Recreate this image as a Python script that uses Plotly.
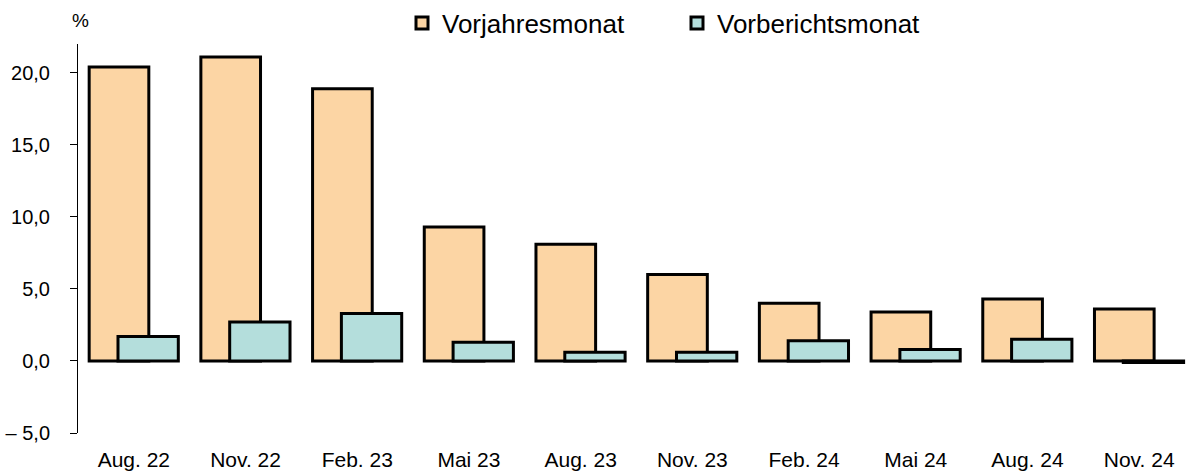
import plotly.graph_objects as go

categories = ["Aug. 22", "Nov. 22", "Feb. 23", "Mai 23", "Aug. 23",
              "Nov. 23", "Feb. 24", "Mai 24", "Aug. 24", "Nov. 24"]
vorjahresmonat = [20.4, 21.1, 18.9, 9.3, 8.1, 6.0, 4.0, 3.4, 4.3, 3.6]
vorberichtsmonat = [1.7, 2.7, 3.3, 1.3, 0.6, 0.6, 1.4, 0.8, 1.5, -0.1]
y_tickvals = [-5, 0, 5, 10, 15, 20]
y_ticktext = ["\u2013 5,0", "0,0", "5,0", "10,0", "15,0", "20,0"]
y_range = [-5, 22]

FONT = "Liberation Sans, Arial, sans-serif"
ORANGE = "#FCD5A4"
BLUE = "#B4DEDC"

fig = go.Figure()
fig.add_trace(go.Bar(
    x=categories, y=vorjahresmonat, name="Vorjahresmonat",
    width=0.534, offset=-0.40,
    marker=dict(color=ORANGE, line=dict(color="black", width=3)),
))
fig.add_trace(go.Bar(
    x=categories, y=vorberichtsmonat, name="Vorberichtsmonat",
    width=0.54, offset=-0.142,
    marker=dict(color=BLUE, line=dict(color="black", width=3)),
))

n = len(categories)
zero_pos = (0 - y_range[0]) / (y_range[1] - y_range[0])

fig.update_layout(
    width=1198, height=471,
    margin=dict(l=78, r=3, t=44, b=38, autoexpand=False),
    paper_bgcolor="white", plot_bgcolor="white",
    barmode="overlay",
    font=dict(family=FONT, size=20, color="black"),
    showlegend=True,
    legend=dict(
        orientation="h", xref="container", yref="container",
        x=402 / 1198, y=1 - 23 / 471, xanchor="left", yanchor="middle",
        font=dict(size=26, family=FONT), itemwidth=30, entrywidth=230,
        bgcolor="rgba(0,0,0,0)", traceorder="normal",
    ),
    xaxis=dict(
        type="category", range=[-0.5, n - 0.5], automargin=False,
        showline=False, showgrid=False, zeroline=False,
        ticks="outside", ticklen=8, tickcolor="rgba(0,0,0,0)",
        tickfont=dict(size=21, family=FONT),
    ),
    xaxis2=dict(
        overlaying="x", anchor="free", position=zero_pos, side="bottom",
        range=[-0.5, n - 0.5], showgrid=False, zeroline=False, automargin=False,
        showline=True, linecolor="black", linewidth=1.5,
        ticks="outside", ticklen=6, tickwidth=1, tickcolor="#777777",
        tickvals=[i + 0.5 for i in range(n)], showticklabels=False,
    ),
    yaxis=dict(
        range=y_range, tickvals=y_tickvals, ticktext=y_ticktext,
        showline=True, linecolor="black", linewidth=1, automargin=False,
        ticks="outside", ticklen=7, tickcolor="black",
        ticklabelstandoff=16,
        showgrid=False, zeroline=False,
        tickfont=dict(size=20, family=FONT),
    ),
    annotations=[dict(
        text="%", xref="paper", yref="paper", x=-8 / 1117, y=1 + 24 / 389,
        xanchor="left", yanchor="middle", showarrow=False,
        font=dict(size=19, family=FONT),
    )],
)

fig.write_html(
    "out.html",
    config={"displayModeBar": False},
    post_script="document.body.style.margin='0';document.body.style.padding='0';",
)
